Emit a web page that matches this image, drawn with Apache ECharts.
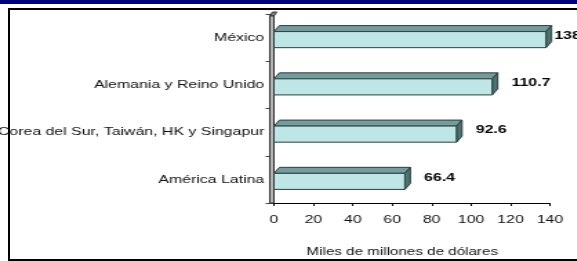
<!DOCTYPE html>
<html>
<head>
<meta charset="utf-8">
<script src="https://cdn.jsdelivr.net/npm/echarts@6/dist/echarts.min.js"></script>
<style>
html, body { margin: 0; padding: 0; width: 577px; height: 261px; overflow: hidden; background: #fff; }
#band { position: absolute; left: 0; top: 0; width: 577px; height: 4px; background: #02027c; }
#frame { position: absolute; left: 8px; top: 8px; width: 700px; height: 249px; border: 2px solid #000; }
/* the picture is stretched sideways, so the chart is drawn narrow and widened */
#chart { position: absolute; left: 0; top: 0; width: 418px; height: 261px; transform: scaleX(1.38); transform-origin: 0 0; }
</style>
</head>
<body>
<div id="band"></div>
<div id="frame"></div>
<div id="chart"></div>
<script>
var categories = ['México', 'Alemania y Reino Unido', 'Corea del Sur, Taiwán, HK y Singapur', 'América Latina'];
var values = [138.0, 110.7, 92.6, 66.4];
var axisMin = 0;
var axisMax = 140;
var axisStep = 20;
var axisTitle = 'Miles de millones de dólares';

var font = '"Liberation Sans", Arial, sans-serif';

function renderWall(params, api) {
	var cs = params.coordSys;
	var x = cs.x, top = cs.y, bottom = cs.y + cs.height;
	return {
		type: 'group',
		children: [
			{ type: 'polygon', shape: { points: [[x - 3, top + 2], [x, top + 2], [x + 2, top - 2], [x - 1, top - 2]] },
				style: { fill: '#8a8a8a', stroke: '#333', lineWidth: 1 } },
			{ type: 'rect', shape: { x: x - 3, y: top + 2, width: 3, height: bottom - top - 2 },
				style: { fill: '#b4b4b4', stroke: '#333', lineWidth: 1 } }
		]
	};
}

function renderBar(params, api) {
	var i = api.value(1);
	var p0 = api.coord([0, i]);
	var p1 = api.coord([api.value(0), i]);
	var h = api.size([0, 1])[1] * 0.34;
	var x0 = p0[0], x1 = p1[0];
	var yt = p0[1] - h / 2 + 2, yb = yt + h;
	var dx = 4, dy = 6;
	var edge = '#2e3f3f';
	var lx = x1 + dx + 10;
	if (lx > params.coordSys.x + params.coordSys.width) lx = x1 + dx + 2;
	return {
		type: 'group',
		children: [
			{ type: 'polygon', shape: { points: [[x0, yt], [x1, yt], [x1 + dx, yt - dy], [x0 + dx, yt - dy]] },
				style: { fill: '#739c9c', stroke: edge, lineWidth: 1 } },
			{ type: 'polygon', shape: { points: [[x1, yt], [x1 + dx, yt - dy], [x1 + dx, yb - dy], [x1, yb]] },
				style: { fill: '#4d7373', stroke: edge, lineWidth: 1 } },
			{ type: 'rect', shape: { x: x0, y: yt, width: x1 - x0, height: h },
				style: { fill: '#bfe6e6', stroke: edge, lineWidth: 1 } },
			{ type: 'text', x: lx, y: p0[1] - 2,
				style: { text: api.value(0).toFixed(1), fill: '#000', font: 'bold 11.5px ' + font, verticalAlign: 'middle', align: 'left' } }
		]
	};
}

var chart = echarts.init(document.getElementById('chart'));
chart.setOption({
	animation: false,
	grid: { left: 198.5, right: 19.5, top: 14, bottom: 58, containLabel: false, outerBoundsMode: 'none' },
	xAxis: {
		type: 'value',
		min: axisMin,
		max: axisMax,
		interval: axisStep,
		name: axisTitle,
		nameLocation: 'middle',
		nameGap: 43,
		nameTextStyle: { color: '#111', fontSize: 11, fontFamily: font, padding: [0, 14, 0, 0] },
		axisLine: { show: true, lineStyle: { color: '#000', width: 1 } },
		axisTick: { show: true, length: 3, lineStyle: { color: '#000' } },
		axisLabel: { color: '#111', fontSize: 11.5, fontFamily: font, margin: 11 },
		splitLine: { show: false }
	},
	yAxis: {
		type: 'category',
		inverse: true,
		data: categories,
		axisLine: { show: false },
		axisTick: { show: true, length: 6, lineStyle: { color: '#444' } },
		axisLabel: { color: '#111', fontSize: 11.5, fontFamily: font, margin: 7 }
	},
	series: [
		{ type: 'custom', renderItem: renderWall, data: [[0, 0]], z: 1, silent: true },
		{ type: 'custom', renderItem: renderBar, data: values.map(function (v, i) { return [v, i]; }), z: 2 }
	]
});
</script>
</body>
</html>
